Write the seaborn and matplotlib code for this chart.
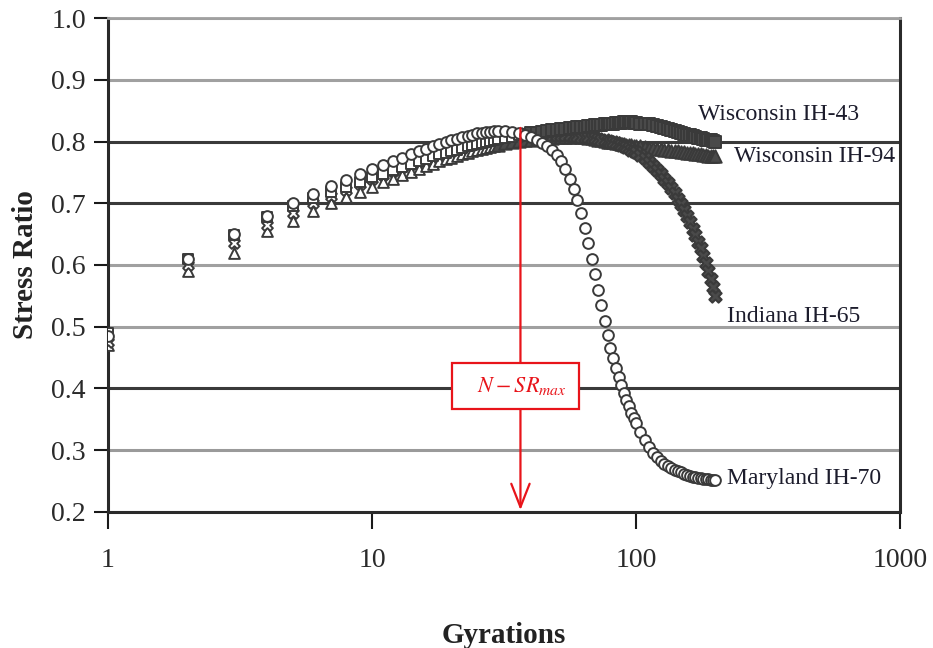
import numpy as np
import pandas as pd
import matplotlib
matplotlib.use("Agg")
import matplotlib.pyplot as plt
import seaborn as sns

# ---- data ----
gyrations = (list(range(1, 31)) + list(range(32, 61, 2)) + list(range(62, 101, 2))
             + list(range(104, 201, 4)))

maryland_ih70 = [
    0.485, 0.61, 0.65, 0.68, 0.70, 0.715, 0.728, 0.738, 0.747, 0.755,
    0.762, 0.768, 0.774, 0.779, 0.784, 0.788, 0.792, 0.796, 0.799, 0.802,
    0.804, 0.807, 0.809, 0.811, 0.813, 0.814, 0.815, 0.816, 0.817, 0.817,
    0.817, 0.816, 0.814, 0.811, 0.807, 0.803, 0.798, 0.792, 0.786, 0.778,
    0.768, 0.755, 0.74, 0.723, 0.705,
    0.684, 0.66, 0.635, 0.61, 0.585, 0.56, 0.535, 0.51, 0.487, 0.466,
    0.449, 0.433, 0.419, 0.405, 0.392, 0.381, 0.371, 0.361, 0.352, 0.344,
    0.33, 0.317, 0.305, 0.296, 0.289, 0.283, 0.278, 0.274, 0.271, 0.268,
    0.266, 0.264, 0.262, 0.26, 0.258, 0.257, 0.256, 0.255, 0.255, 0.254,
    0.253, 0.253, 0.252, 0.252, 0.251]

indiana_ih65 = [
    0.475, 0.60, 0.635, 0.665, 0.685, 0.70, 0.712, 0.722, 0.731, 0.739,
    0.746, 0.752, 0.758, 0.763, 0.768, 0.772, 0.776, 0.78, 0.783, 0.786,
    0.789, 0.791, 0.794, 0.796, 0.798, 0.80, 0.802, 0.803, 0.805, 0.806,
    0.808, 0.81, 0.811, 0.812, 0.812, 0.812, 0.812, 0.812, 0.811, 0.811,
    0.81, 0.81, 0.81, 0.809, 0.809,
    0.808, 0.808, 0.807, 0.806, 0.805, 0.804, 0.803, 0.802, 0.801, 0.80,
    0.799, 0.798, 0.796, 0.795, 0.793, 0.791, 0.789, 0.787, 0.785, 0.783,
    0.778, 0.773, 0.767, 0.761, 0.754, 0.747, 0.74, 0.732, 0.724, 0.716,
    0.707, 0.698, 0.689, 0.679, 0.67, 0.659, 0.649, 0.638, 0.627, 0.615,
    0.603, 0.591, 0.578, 0.564, 0.55]

wisconsin_ih43 = [
    0.49, 0.61, 0.648, 0.678, 0.695, 0.708, 0.718, 0.727, 0.735, 0.742,
    0.748, 0.754, 0.759, 0.764, 0.768, 0.772, 0.776, 0.779, 0.782, 0.785,
    0.787, 0.79, 0.792, 0.794, 0.796, 0.798, 0.799, 0.801, 0.802, 0.804,
    0.806, 0.808, 0.81, 0.812, 0.813, 0.814, 0.815, 0.817, 0.818, 0.819,
    0.82, 0.821, 0.822, 0.822, 0.823,
    0.824, 0.824, 0.825, 0.825, 0.826, 0.826, 0.827, 0.828, 0.828, 0.829,
    0.829, 0.83, 0.83, 0.83, 0.831, 0.831, 0.831, 0.831, 0.83, 0.83,
    0.829, 0.829, 0.828, 0.826, 0.825, 0.824, 0.822, 0.821, 0.819, 0.817,
    0.816, 0.814, 0.812, 0.811, 0.81, 0.809, 0.807, 0.806, 0.805, 0.804,
    0.803, 0.802, 0.802, 0.801, 0.80]

wisconsin_ih94 = [
    0.47, 0.59, 0.62, 0.655, 0.672, 0.688, 0.70, 0.71, 0.719, 0.727,
    0.734, 0.74, 0.746, 0.751, 0.756, 0.76, 0.764, 0.768, 0.771, 0.774,
    0.777, 0.779, 0.782, 0.784, 0.786, 0.788, 0.79, 0.791, 0.793, 0.794,
    0.797, 0.799, 0.801, 0.802, 0.803, 0.804, 0.805, 0.806, 0.806, 0.807,
    0.807, 0.808, 0.808, 0.808, 0.809,
    0.808, 0.807, 0.806, 0.805, 0.804, 0.803, 0.802, 0.801, 0.80, 0.80,
    0.799, 0.798, 0.797, 0.796, 0.796, 0.795, 0.794, 0.794, 0.793, 0.793,
    0.792, 0.791, 0.79, 0.789, 0.788, 0.788, 0.787, 0.786, 0.785, 0.785,
    0.784, 0.783, 0.783, 0.782, 0.781, 0.781, 0.78, 0.779, 0.779, 0.778,
    0.778, 0.777, 0.777, 0.776, 0.776]

series_names = ["Wisconsin IH-94", "Indiana IH-65", "Wisconsin IH-43", "Maryland IH-70"]
series_values = [wisconsin_ih94, indiana_ih65, wisconsin_ih43, maryland_ih70]
series_markers = ["^", "X", "s", "o"]
# dense overlapping region appears as a solid dark band in the reference
series_dense_from = [30, 36, 40, None]

label_texts = ["Wisconsin IH-43", "Wisconsin IH-94", "Indiana IH-65", "Maryland IH-70"]
label_x = [172, 236, 221, 221]
label_y = [0.843, 0.775, 0.516, 0.255]

y_ticks = [0.2, 0.3, 0.4, 0.5, 0.6, 0.7, 0.8, 0.9, 1.0]
y_tick_labels = ["0.2", "0.3", "0.4", "0.5", "0.6", "0.7", "0.8", "0.9", "1.0"]
x_ticks = [1, 10, 100, 1000]
x_tick_labels = ["1", "10", "100", "1000"]

n_sr_max = 36.5
n_sr_top = 0.822

# ---- plot ----
sns.set_theme(style="white")
plt.rcParams["font.family"] = ["Liberation Serif", "DejaVu Serif"]
plt.rcParams["mathtext.fontset"] = "stix"

fig = plt.figure(figsize=(9.33, 6.48), dpi=100)
ax = fig.add_axes([0.1158, 0.2099, 0.8488, 0.7623])

edge = "#3a3a3a"
for name, vals, mk, dense in zip(series_names, series_values, series_markers,
                                 series_dense_from):
    df = pd.DataFrame({"Gyrations": gyrations, "Stress Ratio": vals})
    if dense is None:
        parts = [(df, "white", 60)]
    else:
        parts = [(df[df["Gyrations"] < dense], "white", 60),
                 (df[df["Gyrations"] >= dense], "#4a4a4a", 80)]
    for part, fc, size in parts:
        sns.scatterplot(data=part, x="Gyrations", y="Stress Ratio", marker=mk,
                        s=size, facecolor=fc, edgecolor=edge,
                        linewidth=1.4, ax=ax, zorder=3, legend=False)

ax.set_xscale("log")
ax.set_xlim(1, 1000)
ax.set_ylim(0.2, 1.0)
ax.set_xticks(x_ticks)
ax.set_xticklabels(x_tick_labels)
ax.xaxis.set_minor_locator(matplotlib.ticker.NullLocator())
ax.set_yticks(y_ticks)
ax.set_yticklabels(y_tick_labels)

ax.tick_params(axis="x", which="major", direction="out", length=12, width=1.5,
               pad=14, labelsize=20, colors="#1a1a1a", bottom=True)
ax.tick_params(axis="y", which="major", direction="out", length=10, width=1.5,
               pad=6, labelsize=20, colors="#1a1a1a", left=True)
for lab in ax.get_xticklabels() + ax.get_yticklabels():
    lab.set_color("#2a2a2a")

ax.yaxis.grid(True, zorder=0)
ax.set_axisbelow(True)
grid_shades = ["#777777", "#9a9a9a", "#3a3a3a", "#a0a0a0", "#a0a0a0",
               "#3a3a3a", "#3a3a3a", "#a0a0a0", "#a0a0a0"]
for gl, shade in zip(ax.get_ygridlines(), grid_shades):
    gl.set_color(shade)
    gl.set_linewidth(2.2)

for side in ["left", "bottom", "right"]:
    ax.spines[side].set_color("#2a2a2a")
    ax.spines[side].set_linewidth(2.2)
ax.spines["top"].set_color("#a0a0a0")
ax.spines["top"].set_linewidth(2.0)

ax.set_xlabel("Gyrations", fontsize=21, fontweight="bold", color="#222222", labelpad=35)
ax.set_ylabel("Stress Ratio", fontsize=21, fontweight="bold", color="#222222", labelpad=9)

for txt, lx, ly in zip(label_texts, label_x, label_y):
    ax.text(lx, ly, txt, fontsize=17, color="#1c1c2c", va="center", ha="left", zorder=5)

# red arrow marking N - SR_max
ax.annotate("", xy=(n_sr_max, 0.203), xytext=(n_sr_max, n_sr_top),
            arrowprops=dict(arrowstyle="->,head_length=1.4,head_width=0.55",
                            color="#e8141a", lw=1.6, shrinkA=0, shrinkB=0),
            zorder=6)
ax.text(n_sr_max * 0.96, 0.404, r"$\;\;\;N - SR_{max}\;\;\;$", fontsize=16, color="#e8141a",
        ha="center", va="center", zorder=7,
        bbox=dict(boxstyle="square,pad=0.55", facecolor="white",
                  edgecolor="#e8141a", linewidth=1.6))

fig.savefig("out.png", dpi=100)
